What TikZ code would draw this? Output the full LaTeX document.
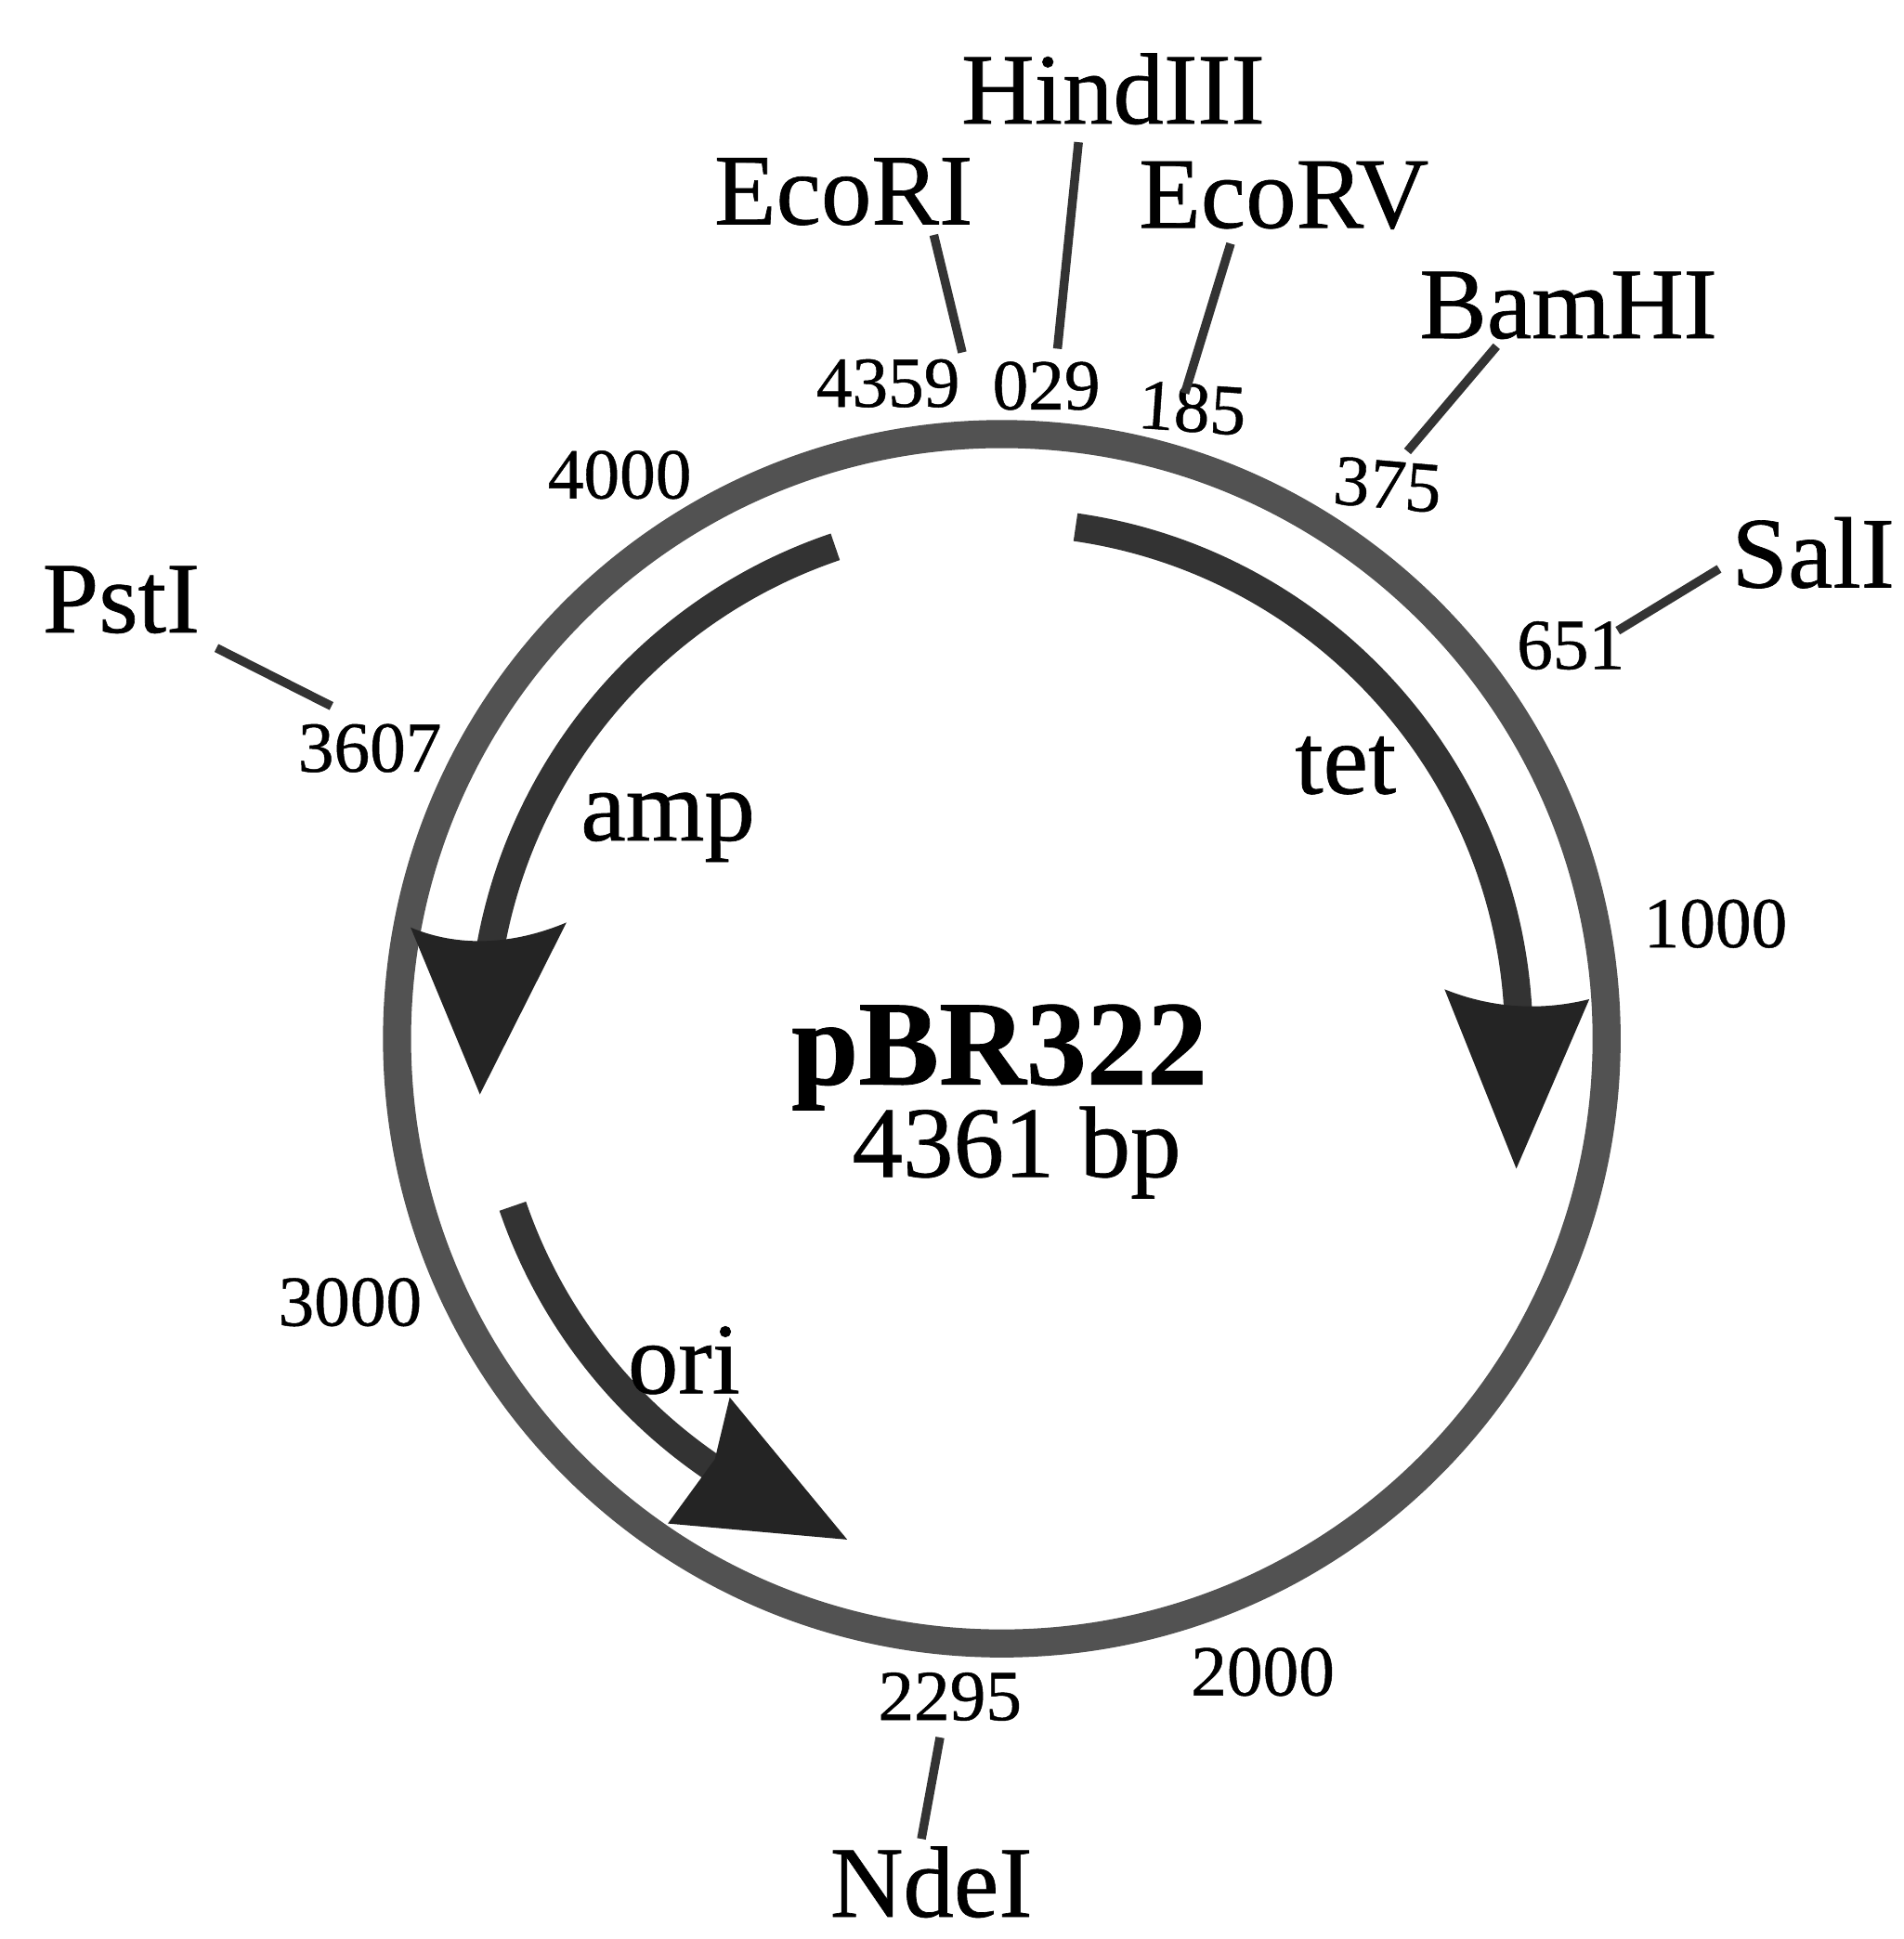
\documentclass[tikz,border=0pt]{standalone}
\usepackage{fontspec}
\setmainfont[RawFeature={embolden=0.6}]{Liberation Serif}
\usetikzlibrary{calc}
\tikzset{
	sitename/.style={font=\fontsize{31}{31}\selectfont, inner sep=0pt},
	sitepos/.style={font=\fontsize{22}{22}\selectfont, inner sep=0pt},
	sitetick/.style={line width=2.7pt, black!80},
	ring/.style={line width=8.6pt, black!68},
	genebar/.style={line width=8.6pt, black!80},
	genehead/.style={fill=black!86}
}
\begin{document}
\begin{tikzpicture}[x=0.013314cm, y=-0.013314cm]
	\useasboundingbox (0,0) rectangle (1539,1568);
	\coordinate (cen) at (810,840);

	% Plasmid ring
	\draw[ring] (cen) circle (489);

	% tet
	\draw[genebar] ([shift={(278.2:418)}]cen) arc (278.2:357:418);
	\fill[genehead] (1168,800) .. controls (1205,815) and (1245,818) .. (1285,808) -- (1226,945) -- cycle;
	\node[sitename] (tet) at (1088,619) {tet};

	% amp
	\draw[genebar] ([shift={(251.3:420)}]cen) arc (251.3:189:420);
	\fill[genehead] (332,750) .. controls (375,768) and (420,762) .. (458,746) -- (388,885) -- cycle;
	\node[sitename] (amp) at (540,669) {amp};

	% ori
	\draw[genebar] ([shift={(161.1:418)}]cen) arc (161.1:122:420);
	\fill[genehead] (590,1130) -- (578,1180) -- (540,1232) -- (685,1245) -- cycle;
	\node[sitename] (ori) at (553,1100) {ori};

	% Centre
	\node[inner sep=0pt, font=\fontsize{37}{37}\selectfont\bfseries] (pname) at (808,855) {pBR322};
	\node[sitename] (psize) at (822,932) {4361 bp};

	% Sites
	\node[sitename] (HindIII) at (900,72) {HindIII};
	\node[sitename] (EcoRI) at (682,155) {EcoRI};
	\node[sitename] (EcoRV) at (1038,158) {EcoRV};
	\node[sitename] (BamHI) at (1268,247) {BamHI};
	\node[sitename] (SalI) at (1466,447) {SalI};
	\node[sitename] (PstI) at (98,485) {PstI};
	\node[sitename] (NdeI) at (753,1522) {NdeI};

	% Positions
	\node[sitepos] (p4359) at (718,310) {4359};
	\node[sitepos] (p029) at (846,312) {029};
	\node[sitepos, rotate=-4] (p185) at (964,330) {185};
	\node[sitepos, rotate=-5] (p375) at (1122,392) {375};
	\node[sitepos] (p651) at (1270,522) {651};
	\node[sitepos] (p1000) at (1387,747) {1000};
	\node[sitepos] (p4000) at (501,384) {4000};
	\node[sitepos] (p3607) at (299,605) {3607};
	\node[sitepos] (p3000) at (283,1053) {3000};
	\node[sitepos] (p2295) at (768,1372) {2295};
	\node[sitepos] (p2000) at (1021,1352) {2000};

	% Ticks
	\coordinate (tEcoRI) at (755,190);
	\coordinate (bEcoRI) at (778,285);
	\coordinate (tHindIII) at (872,115);
	\coordinate (bHindIII) at (855,282);
	\coordinate (tEcoRV) at (995,197);
	\coordinate (bEcoRV) at (958,318);
	\coordinate (tBamHI) at (1210,280);
	\coordinate (bBamHI) at (1138,365);
	\coordinate (tSalI) at (1390,460);
	\coordinate (bSalI) at (1308,510);
	\coordinate (tPstI) at (175,524);
	\coordinate (bPstI) at (268,571);
	\coordinate (tNdeI) at (745,1487);
	\coordinate (bNdeI) at (760,1405);
	\draw[sitetick] (tEcoRI) -- (bEcoRI);
	\draw[sitetick] (tHindIII) -- (bHindIII);
	\draw[sitetick] (tEcoRV) -- (bEcoRV);
	\draw[sitetick] (tBamHI) -- (bBamHI);
	\draw[sitetick] (tSalI) -- (bSalI);
	\draw[sitetick] (tPstI) -- (bPstI);
	\draw[sitetick] (tNdeI) -- (bNdeI);
\end{tikzpicture}
\end{document}
